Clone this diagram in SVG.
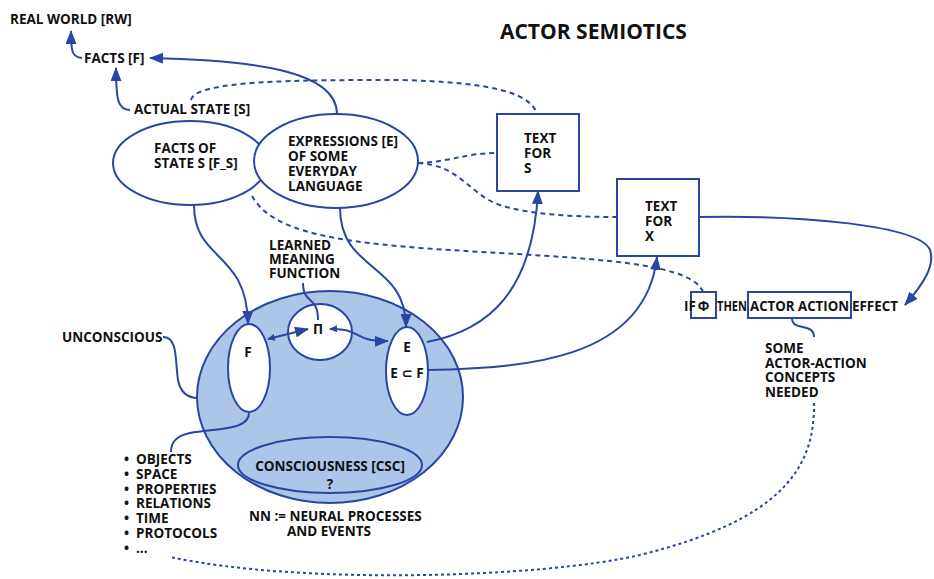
<svg xmlns="http://www.w3.org/2000/svg" width="934" height="579" viewBox="0 0 934 579">
<style>
text{font-family:"Open Sans","Noto Sans","DejaVu Sans",sans-serif;font-weight:bold;font-size:13.5px;fill:#111}
.title{font-size:21px}
.c{text-anchor:middle}
.ln{fill:none;stroke:#2a46a0;stroke-width:2}
.d{stroke-dasharray:5 4}
.dot{stroke-dasharray:3 3}
.sh{fill:#fff;stroke:#2a46a0;stroke-width:2}
.bl{fill:#adc5e8;stroke:#2a46a0;stroke-width:2}
</style>
<defs>
<marker id="a" viewBox="0 0 14 11" refX="13" refY="5.5" markerWidth="14" markerHeight="11" orient="auto" markerUnits="userSpaceOnUse"><path d="M0,0 L14,5.5 L0,11 z" fill="#2a46a0"/></marker>
<marker id="s" viewBox="0 0 8 7" refX="7" refY="3.5" markerWidth="8" markerHeight="7" orient="auto-start-reverse" markerUnits="userSpaceOnUse"><path d="M0,0 L8,3.5 L0,7 z" fill="#2a46a0"/></marker>
</defs>
<rect width="934" height="579" fill="#fff"/>
<text class="title" x="500" y="39">ACTOR SEMIOTICS</text>

<g id="rw"><text x="10" y="24">REAL WORLD [RW]</text></g>
<g id="facts"><text x="84" y="63">FACTS [F]</text></g>
<g id="state"><text x="134" y="114">ACTUAL STATE [S]</text></g>

<g id="fs"><ellipse class="sh" cx="190" cy="163" rx="77" ry="42"/><text x="154" y="153">FACTS OF</text><text x="154" y="168">STATE S [F_S]</text></g>
<g id="expr"><ellipse class="sh" cx="336" cy="161" rx="82" ry="47"/><text x="288" y="146">EXPRESSIONS [E]</text><text x="288" y="161">OF SOME</text><text x="288" y="176">EVERYDAY</text><text x="288" y="191">LANGUAGE</text></g>

<g id="texts"><rect class="sh" x="497" y="114" width="82" height="77"/><text x="524" y="143">TEXT</text><text x="524" y="158">FOR</text><text x="524" y="173">S</text></g>
<g id="textx"><rect class="sh" x="617" y="179" width="82" height="77"/><text x="645" y="211">TEXT</text><text x="645" y="226">FOR</text><text x="645" y="241">X</text></g>

<g id="brain">
<ellipse class="bl" cx="330" cy="397" rx="133" ry="106"/>
</g>
<g id="fnode"><ellipse class="sh" cx="249" cy="368" rx="21" ry="44"/><text class="c" x="248" y="357">F</text></g>
<g id="pi"><ellipse class="sh" cx="320" cy="332" rx="32" ry="28"/><text class="c" x="318" y="334">Π</text></g>
<g id="enode"><ellipse class="sh" cx="407" cy="371" rx="21" ry="44"/><text class="c" x="407" y="352">E</text><text class="c" x="407" y="378">E ⊂ F</text></g>
<g id="csc"><ellipse class="bl" cx="330" cy="465" rx="92" ry="28"/><text class="c" x="330" y="471">CONSCIOUSNESS [CSC]</text><text class="c" x="330" y="489">?</text></g>

<g id="lmf"><text x="269" y="250">LEARNED</text><text x="269" y="264">MEANING</text><text x="269" y="278">FUNCTION</text></g>
<g id="unc"><text x="62" y="342">UNCONSCIOUS</text></g>
<g id="list">
<text x="124" y="464">•</text><text x="136" y="464">OBJECTS</text>
<text x="124" y="479">•</text><text x="136" y="479">SPACE</text>
<text x="124" y="494">•</text><text x="136" y="494">PROPERTIES</text>
<text x="124" y="508">•</text><text x="136" y="508">RELATIONS</text>
<text x="124" y="523">•</text><text x="136" y="523">TIME</text>
<text x="124" y="538">•</text><text x="136" y="538">PROTOCOLS</text>
<text x="124" y="553">•</text><text x="136" y="553">...</text>
</g>
<g id="nn"><text x="249" y="521">NN := NEURAL PROCESSES</text><text x="287" y="536">AND EVENTS</text></g>

<g id="rule">
<rect class="sh" x="691" y="292" width="25" height="26"/>
<rect class="sh" x="748" y="292" width="103" height="26"/>
<text x="684" y="311">IF</text><text class="c" x="703.5" y="311">Φ</text><text x="717" y="311" textLength="30" lengthAdjust="spacingAndGlyphs">THEN</text><text x="750" y="311" textLength="99" lengthAdjust="spacingAndGlyphs">ACTOR ACTION</text><text x="852" y="311" textLength="46" lengthAdjust="spacingAndGlyphs">EFFECT</text>
</g>
<g id="concepts"><text x="765" y="353">SOME</text><text x="765" y="368">ACTOR-ACTION</text><text x="765" y="382">CONCEPTS</text><text x="765" y="397">NEEDED</text></g>

<g id="connectors">
<path class="ln" d="M82 58 C72 57 71 52 71 31" marker-end="url(#a)"/>
<path class="ln" d="M130 110 C118 110 116 100 116 68" marker-end="url(#a)"/>
<path class="ln" d="M337 114 C337 70 250 60 150 58" marker-end="url(#a)"/>
<path class="ln d" d="M191 100 C195 80 300 80 400 80 C480 82 530 90 537 114"/>
<path class="ln d" d="M418 163 C450 162 465 153 497 153"/>
<path class="ln d" d="M418 163 C460 165 470 195 500 205 C530 215 580 217 617 217"/>
<path class="ln d" d="M252 196 C270 228 320 240 420 248 C560 258 690 258 703 292"/>
<path class="ln" d="M194 205 C194 262 247 250 248 324" marker-end="url(#a)"/>
<path class="ln" d="M340 208 C340 272 406 262 406 327" marker-end="url(#a)"/>
<path class="ln" d="M303 283 C303 305 318 295 318 320"/>
<path class="ln" d="M268 339 C280 336 292 333 308 329" marker-start="url(#s)" marker-end="url(#a)"/>
<path class="ln" d="M330 329 C362 328 352 342 388 341" marker-start="url(#s)" marker-end="url(#a)"/>
<path class="ln" d="M427 342 C490 330 533 290 538 191" marker-end="url(#a)"/>
<path class="ln" d="M428 370 C520 368 645 362 657 257" marker-end="url(#a)"/>
<path class="ln" d="M699 217 C800 215 920 225 930 250 C935 265 925 282 905 305" marker-end="url(#a)"/>
<path class="ln" d="M792 318 C792 332 814 322 814 337"/>
<path class="ln dot" d="M814 403 C815 470 780 520 640 555 C540 578 300 585 170 557"/>
<path class="ln" d="M163 337 C178 337 175 360 178 380 C181 395 190 398 198 398"/>
<path class="ln" d="M249 412 C250 430 220 428 190 433 C175 436 171 443 171 452"/>
</g>
</svg>
